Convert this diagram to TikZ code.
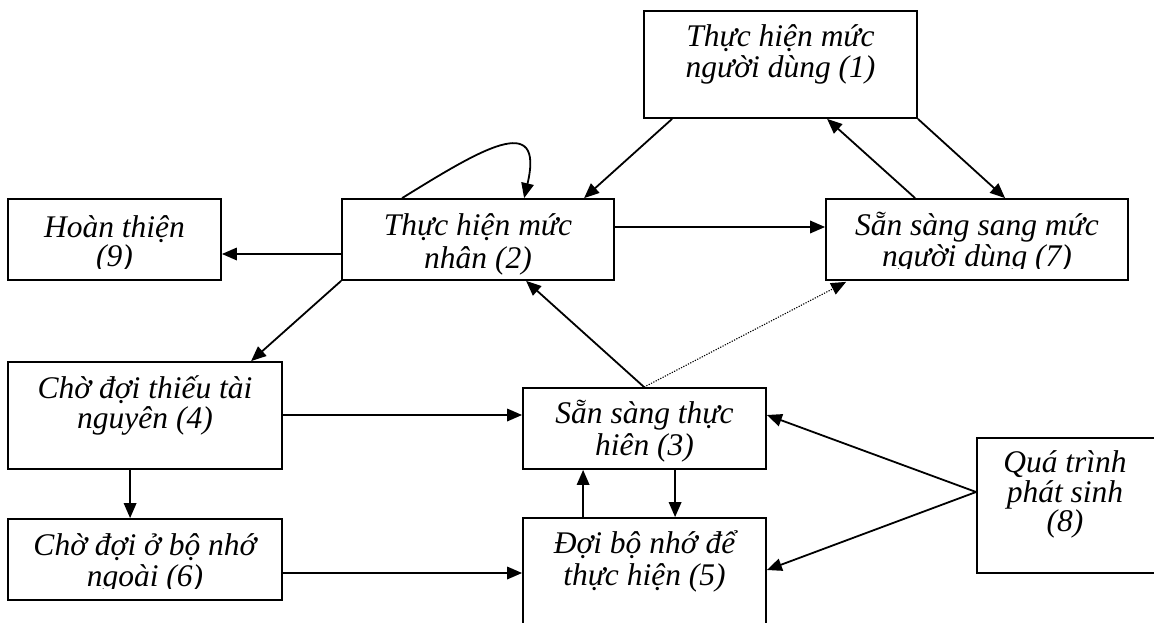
\documentclass[tikz,border=0pt]{standalone}
\usepackage{fontspec}
\setmainfont{Liberation Serif}
\usetikzlibrary{arrows.meta,calc}
\tikzset{
  box/.style={draw=black, line width=1.8pt, rectangle, inner sep=0pt},
  txt/.style={anchor=base, inner sep=0pt, font=\itshape\fontsize{31.5}{32}\selectfont},
  conn/.style={line width=1.8pt, -{Triangle[length=15pt,width=12.5pt]}},
  dotconn/.style={line width=1.1pt, dash pattern=on 1.2pt off 1.4pt, -{Triangle[length=15pt,width=12.5pt]}}
}
\begin{document}
\begin{tikzpicture}[x=1pt,y=-1pt]
\clip (0,0) rectangle (1154,623);
\fill[white] (0,0) rectangle (1154,623);

% boxes
\node[box, minimum width=273pt, minimum height=107pt] (b1) at (780.5,64.5) {};
\node[box, minimum width=272pt, minimum height=81pt] (b2) at (478,239.5) {};
\node[box, minimum width=213pt, minimum height=81pt] (b9) at (114.5,239.5) {};
\node[box, minimum width=302pt, minimum height=81pt] (b7) at (977,239.5) {};
\node[box, minimum width=274pt, minimum height=107pt] (b4) at (145,415.5) {};
\node[box, minimum width=243pt, minimum height=81pt] (b3) at (644.5,428.5) {};
\node[box, minimum width=274pt, minimum height=81pt] (b6) at (145,559.5) {};
\node[box, minimum width=243pt, minimum height=122pt] (b5) at (644.5,579) {};
\node[box, minimum width=179pt, minimum height=135pt] (b8) at (1066.5,505.5) {};

% texts
\node[txt] (t1a) at (780.5,47) {Thực hiện mức};
\node[txt] (t1b) at (780.5,78) {người dùng (1)};
\node[txt] (t2a) at (478,235) {Thực hiện mức};
\node[txt] (t2b) at (478,268) {nhân (2)};
\begin{scope}
\clip (8,199) rectangle (221,268);
\node[txt] (t9a) at (114.5,237) {Hoàn thiện};
\node[txt] (t9b) at (114.5,266) {(9)};
\end{scope}
\begin{scope}
\clip (826,199) rectangle (1128,268);
\node[txt] (t7a) at (977,235) {Sẵn sàng sang mức};
\node[txt] (t7b) at (977,266) {người dùng (7)};
\end{scope}
\node[txt] (t4a) at (145,398) {Chờ đợi thiếu tài};
\node[txt] (t4b) at (145,428) {nguyên (4)};
\node[txt] (t3a) at (644.5,423) {Sẵn sàng thực};
\node[txt] (t3b) at (644.5,455) {hiên (3)};
\begin{scope}
\clip (8,519) rectangle (282,588);
\node[txt] (t6a) at (145,555) {Chờ đợi ở bộ nhớ};
\node[txt] (t6b) at (145,586) {ngoài (6)};
\end{scope}
\node[txt] (t5a) at (644.5,553) {Đợi bộ nhớ để};
\node[txt] (t5b) at (644.5,585) {thực hiện (5)};
\node[txt] (t8a) at (1065,472) {Quá trình};
\node[txt] (t8b) at (1065,502) {phát sinh};
\node[txt] (t8c) at (1065,531) {(8)};

% connectors
\draw[conn] ([xshift=29pt]b1.south west) -- ([xshift=243pt]b2.north west);
\draw[conn] ([xshift=90pt]b7.north west) -- ([xshift=184pt]b1.south west);
\draw[conn] (b1.south east) -- ([xshift=180pt]b7.north west);
\draw[conn] ([yshift=12.5pt]b2.east) -- ([yshift=12.5pt]b2.east -| b7.west);
\draw[conn] ([yshift=-14.5pt]b2.west) -- ([yshift=-14.5pt]b2.west -| b9.east);
\draw[conn] ([xshift=61pt]b2.north west) .. controls (480,150) and (545,110) .. ([xshift=183pt]b2.north west);
\draw[conn] (b2.south west) -- ([xshift=244pt]b4.north west);
\draw[conn] ([xshift=122pt]b3.north west) -- ([xshift=185pt]b2.south west);
\draw[dotconn] ([xshift=122pt]b3.north west) -- ([xshift=21pt,yshift=-1pt]b7.south west);
\draw[conn] ([yshift=0.5pt]b4.east) -- ([yshift=0.5pt]b4.east -| b3.west);
\draw[conn] ([xshift=123pt]b4.south west) -- ([xshift=123pt]b6.north west);
\draw[conn] ([yshift=-13.5pt]b6.east) -- ([yshift=-13.5pt]b6.east -| b5.west);
\draw[conn] ([xshift=61pt]b5.north west) -- ([xshift=61pt]b3.south west);
\draw[conn] ([xshift=153pt]b3.south west) -- ([xshift=153pt]b5.north west);
\draw[conn] ([yshift=13.5pt]b8.west) -- ([yshift=13.5pt]b3.east);
\draw[conn] ([yshift=13.5pt]b8.west) -- ([yshift=9pt]b5.east);
\end{tikzpicture}
\end{document}
